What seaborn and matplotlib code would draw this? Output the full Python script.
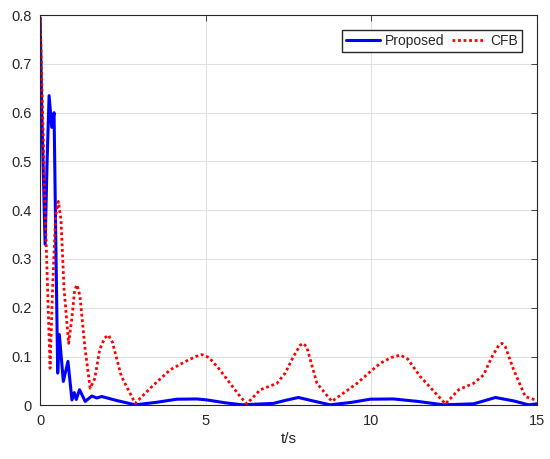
"""Tracking error over time: proposed method vs. CFB."""
import numpy as np
import pandas as pd
import matplotlib
matplotlib.use("Agg")
import matplotlib.pyplot as plt
import seaborn as sns

# Proposed method error curve.
proposed_t = [0.0, 0.05, 0.15, 0.21, 0.27, 0.35, 0.42, 0.47, 0.53, 0.58, 0.70,
              0.84, 0.96, 1.03, 1.09, 1.19, 1.36, 1.56, 1.71, 1.86, 2.3, 2.87,
              3.5, 4.13, 4.73, 5.04, 5.6, 6.1, 7.05, 7.4, 7.8, 8.3, 8.76, 9.4,
              9.97, 10.67, 11.4, 12.18, 13.09, 13.4, 13.75, 14.3, 14.75, 15.0]
proposed_e = [0.794, 0.60, 0.33, 0.50, 0.635, 0.57, 0.60, 0.35, 0.066, 0.145,
              0.049, 0.09, 0.011, 0.026, 0.012, 0.032, 0.008, 0.019, 0.015,
              0.018, 0.010, 0.001, 0.006, 0.0125, 0.013, 0.011, 0.005, 0.001,
              0.004, 0.010, 0.016, 0.008, 0.001, 0.006, 0.0125, 0.013, 0.008,
              0.001, 0.003, 0.009, 0.016, 0.009, 0.001, 0.003]

# CFB error curve.
cfb_t = [0.0, 0.15, 0.3, 0.38, 0.47, 0.55, 0.63, 0.72, 0.86, 0.96, 1.04,
         1.11, 1.2, 1.35, 1.51, 1.65, 1.8, 1.95, 2.06, 2.18, 2.45, 2.87,
         3.4, 3.93, 4.45, 4.7, 4.88, 5.1, 5.4, 6.04, 6.24, 6.65, 7.15, 7.4,
         7.65, 7.85, 7.94, 8.05, 8.36, 8.81, 9.57, 9.97, 10.27, 10.6, 10.88,
         11.1, 11.48, 12.24, 12.64, 13.09, 13.39, 13.65, 13.85, 13.95, 14.05,
         14.3, 14.65, 15.0]
cfb_e = [0.797, 0.40, 0.076, 0.25, 0.39, 0.418, 0.38, 0.24, 0.127, 0.18,
         0.235, 0.247, 0.225, 0.12, 0.035, 0.055, 0.115, 0.138, 0.144, 0.13,
         0.06, 0.004, 0.04, 0.073, 0.092, 0.100, 0.104, 0.098, 0.075, 0.018,
         0.003, 0.032, 0.045, 0.066, 0.100, 0.123, 0.127, 0.120, 0.045, 0.008,
         0.045, 0.069, 0.086, 0.098, 0.103, 0.095, 0.059, 0.003, 0.032, 0.045,
         0.062, 0.100, 0.123, 0.127, 0.120, 0.073, 0.018, 0.01]

# Build a long-form DataFrame for seaborn.
plot_df = pd.concat(
    [
        pd.DataFrame({"t": proposed_t, "e": proposed_e, "method": "Proposed"}),
        pd.DataFrame({"t": cfb_t, "e": cfb_e, "method": "CFB"}),
    ],
    ignore_index=True,
)

sns.set_style("white")
plt.rcParams["font.family"] = ["Liberation Sans", "DejaVu Sans"]

fig, ax = plt.subplots(figsize=(5.5, 4.59), dpi=100)
fig.subplots_adjust(left=0.073, right=0.976, top=0.967, bottom=0.117)

# Draw each series with its own style.
sns.lineplot(
    data=plot_df[plot_df["method"] == "Proposed"],
    x="t", y="e", color="#0000ff", linewidth=2.2, label="Proposed",
    sort=False, ax=ax,
)
sns.lineplot(
    data=plot_df[plot_df["method"] == "CFB"],
    x="t", y="e", color="#ff0000", linewidth=2.0, linestyle=(0, (1, 1)),
    label="CFB", sort=False, ax=ax,
)

# Axes limits, ticks and grid (MATLAB-like look).
ax.set_xlim(0, 15)
ax.set_ylim(0, 0.8)
ax.set_xticks([0, 5, 10, 15])
ax.set_yticks(np.arange(0, 0.81, 0.1))
ax.set_yticklabels(["0", "0.1", "0.2", "0.3", "0.4", "0.5", "0.6", "0.7", "0.8"])
ax.grid(True, color="#e0e0e0", linewidth=0.8)
ax.tick_params(direction="in", length=4, width=0.6, top=True, right=True,
               labelsize=10.5, colors="#262626", pad=6)
for spine in ax.spines.values():
    spine.set_color("#262626")
    spine.set_linewidth(0.8)

ax.set_xlabel("t/s", fontsize=11, color="#262626", labelpad=3)
ax.set_ylabel("")

# Legend across two columns in the upper right.
ax.legend(loc="upper right", ncols=2, fontsize=10, frameon=True,
          fancybox=False, edgecolor="#262626", framealpha=1,
          handlelength=2.4, columnspacing=0.5, handletextpad=0.4,
          borderpad=0.3, bbox_to_anchor=(0.985, 0.98))

fig.savefig("out.png", dpi=100)
